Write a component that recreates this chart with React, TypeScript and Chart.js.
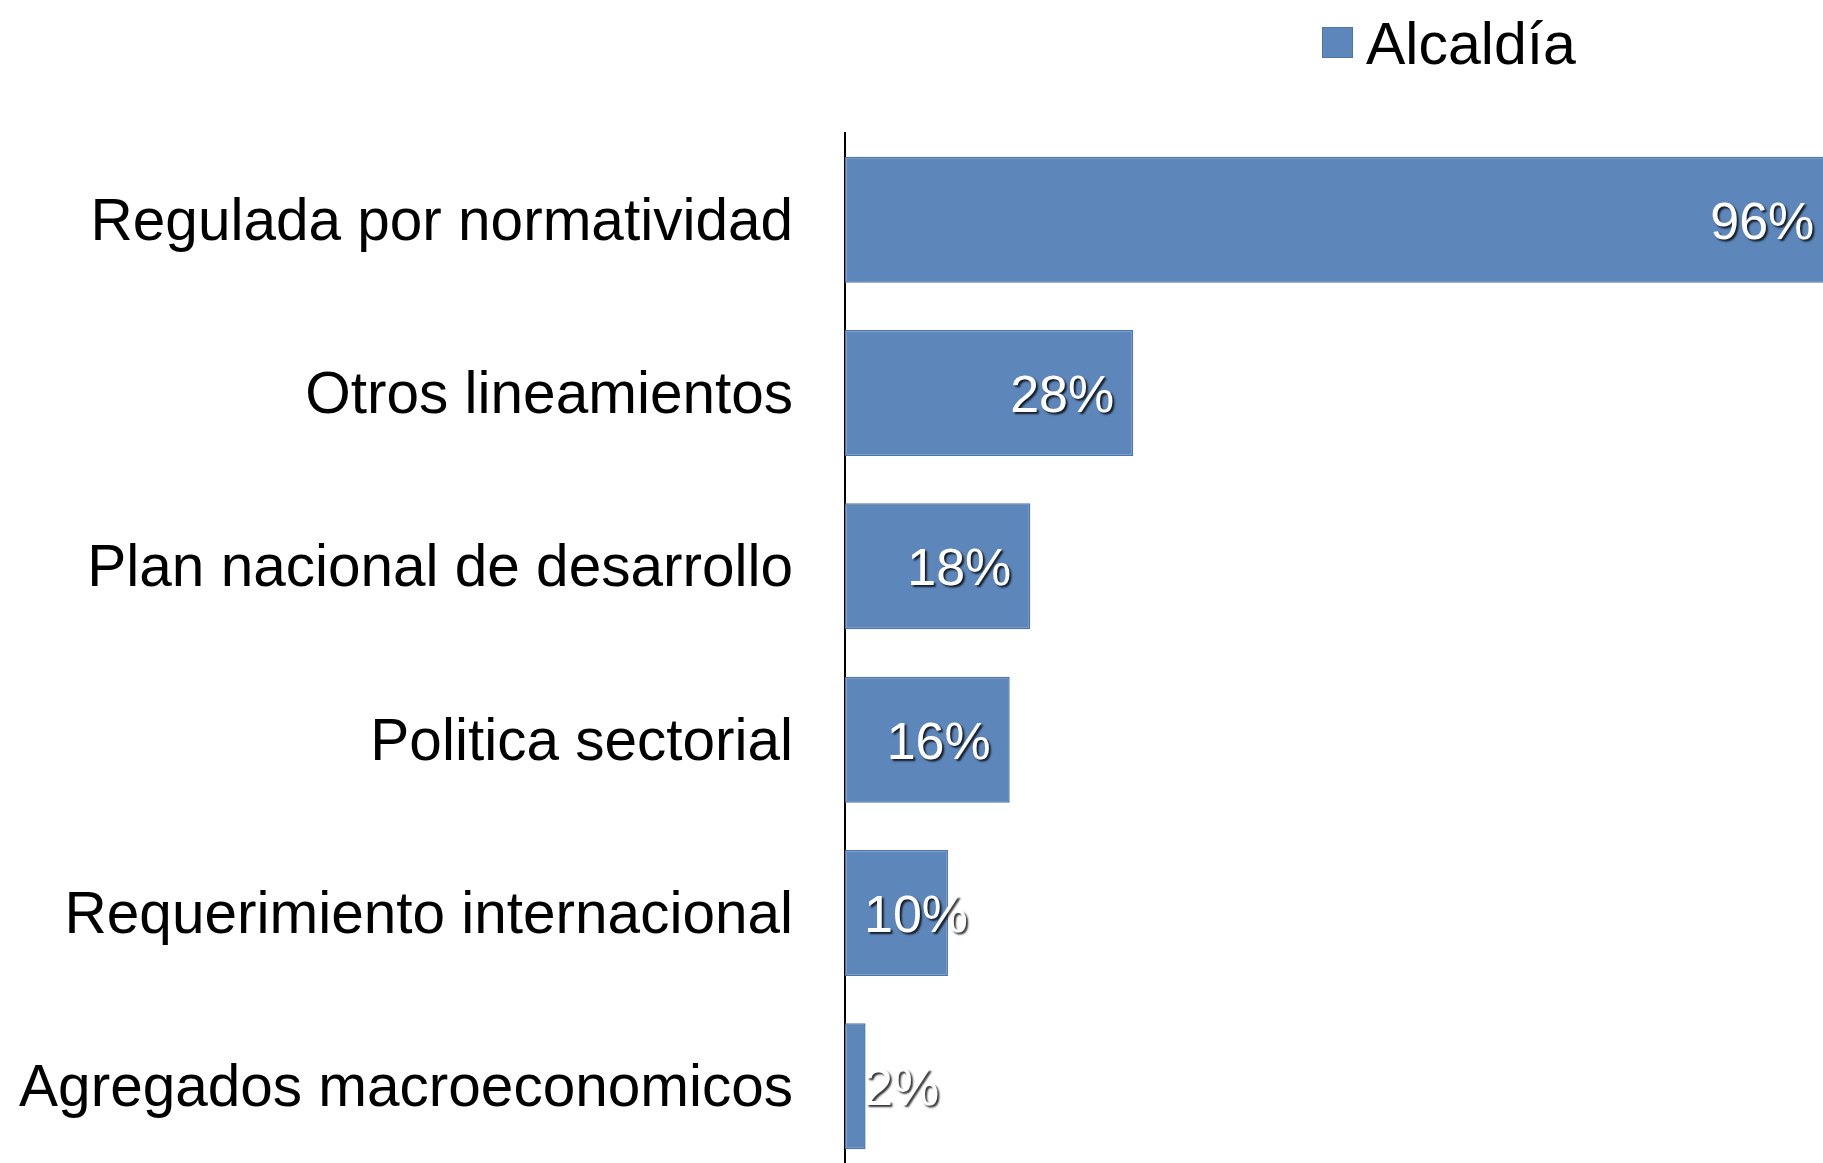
import React, { useEffect, useRef } from "react";
import { Chart, registerables } from "chart.js";

Chart.register(...registerables);

const categories = [
  "Regulada por normatividad",
  "Otros lineamientos",
  "Plan nacional de desarrollo",
  "Politica sectorial",
  "Requerimiento internacional",
  "Agregados macroeconomicos",
];
const seriesName = "Alcaldía";
const values = [96, 28, 18, 16, 10, 2];
const valueLabels = ["96%", "28%", "18%", "16%", "10%", "2%"];
const xMin = 0;
const xMax = 95;

const FONT = "'Liberation Sans', Arial, sans-serif";
const BAR_FILL = "#5d86ba";
const BAR_BORDER = "#4a76ad";

const valueLabelPlugin = {
  id: "valueLabels",
  afterDatasetsDraw(chart: any) {
    const { ctx, chartArea } = chart;
    const meta = chart.getDatasetMeta(0);
    ctx.save();
    ctx.font = `52px ${FONT}`;
    ctx.textBaseline = "alphabetic";
    ctx.textAlign = "left";
    meta.data.forEach((el: any, i: number) => {
      const text = valueLabels[i];
      const w = ctx.measureText(text).width;
      const right = el.x - 19;
      let left = right - w;
      const minLeft = chartArea.left + 19;
      if (left < minLeft) left = minLeft;
      const y = el.y + 19;
      ctx.shadowColor = "rgba(0,0,0,0.8)";
      ctx.shadowOffsetX = 2;
      ctx.shadowOffsetY = 2;
      ctx.shadowBlur = 2;
      ctx.fillStyle = "#ffffff";
      ctx.fillText(text, left, y);
    });
    ctx.restore();
  },
};

const legendPlugin = {
  id: "customLegend",
  afterDraw(chart: any) {
    const { ctx } = chart;
    ctx.save();
    ctx.fillStyle = BAR_FILL;
    ctx.fillRect(1322, 27, 31, 31);
    ctx.strokeStyle = BAR_BORDER;
    ctx.lineWidth = 1;
    ctx.strokeRect(1322.5, 27.5, 30, 30);
    ctx.fillStyle = "#000000";
    ctx.font = `59px ${FONT}`;
    ctx.textBaseline = "alphabetic";
    ctx.textAlign = "left";
    ctx.fillText(chart.data.datasets[0].label, 1366, 64);
    ctx.restore();
  },
};

export default function App() {
  const canvasRef = useRef<HTMLCanvasElement | null>(null);

  useEffect(() => {
    const canvas = canvasRef.current;
    if (!canvas) return;
    const chart = new Chart(canvas, {
      type: "bar",
      data: {
        labels: categories,
        datasets: [
          {
            label: seriesName,
            data: values,
            backgroundColor: BAR_FILL,
            borderColor: BAR_BORDER,
            borderWidth: 1.5,
            borderSkipped: false,
            categoryPercentage: 1,
            barPercentage: 0.727,
          },
        ],
      },
      options: {
        indexAxis: "y",
        responsive: false,
        maintainAspectRatio: false,
        animation: false,
        devicePixelRatio: 1,
        layout: { padding: { left: 0, right: 0, top: 133, bottom: 0 } },
        plugins: {
          legend: { display: false },
          tooltip: { enabled: false },
        },
        scales: {
          x: {
            display: false,
            min: xMin,
            max: xMax,
          },
          y: {
            grid: { display: false, drawTicks: false },
            border: { display: true, color: "#000000", width: 2 },
            ticks: {
              color: "#000000",
              padding: 52,
              labelOffset: 4,
              font: { family: FONT, size: 58.5 },
            },
            afterFit(scale: any) {
              scale.width = 845;
              scale.paddingTop = 0;
              scale.paddingBottom = 0;
            },
          },
        },
      },
      plugins: [valueLabelPlugin, legendPlugin],
    } as any);
    return () => chart.destroy();
  }, []);

  return (
    <div style={{ position: "fixed", left: 0, top: 0, width: 1823, height: 1173, background: "#ffffff" }}>
      <canvas ref={canvasRef} width={1823} height={1173} style={{ display: "block", width: 1823, height: 1173 }} />
    </div>
  );
}
